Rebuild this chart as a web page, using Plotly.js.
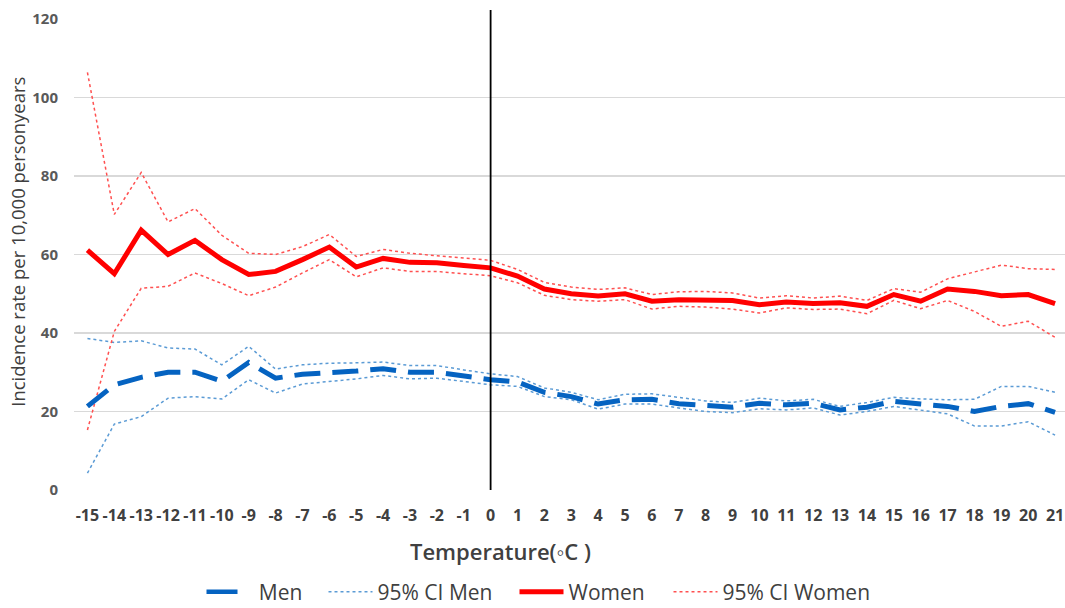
<!DOCTYPE html>
<html>
<head>
<meta charset="utf-8">
<script src="https://cdn.plot.ly/plotly-3.0.1.min.js"></script>
<style>html,body{margin:0;padding:0;background:#fff;}#chart{width:1065px;height:608px;}</style>
</head>
<body>
<div id="chart"></div>
<script>
var temps = [-15,-14,-13,-12,-11,-10,-9,-8,-7,-6,-5,-4,-3,-2,-1,0,1,2,3,4,5,6,7,8,9,10,11,12,13,14,15,16,17,18,19,20,21];
var men = [21.3,26.8,28.7,30.0,30.0,27.7,32.5,28.5,29.5,29.8,30.3,30.9,30.0,30.0,28.9,28.1,27.5,24.9,23.8,21.9,23.0,23.1,22.0,21.4,21.1,22.1,21.7,22.1,20.4,21.1,22.6,21.9,21.3,20.0,21.3,22.0,19.8];
var menUpper = [38.6,37.6,38.0,36.2,35.9,31.9,36.6,30.8,31.9,32.3,32.4,32.6,31.7,31.7,30.6,29.6,28.9,26.0,24.9,23.0,24.4,24.5,23.6,22.7,22.3,23.4,22.7,23.1,21.3,22.3,23.6,23.2,23.0,23.1,26.4,26.4,24.9];
var menLower = [4.3,16.8,18.7,23.4,23.8,23.2,28.1,24.7,27.0,27.7,28.3,29.2,28.3,28.5,27.7,26.8,26.4,23.8,23.0,20.6,21.9,21.9,20.9,20.0,19.7,20.7,20.4,20.9,19.1,20.0,21.3,20.4,19.4,16.3,16.3,17.4,14.0];
var women = [61.1,55.1,66.2,60.0,63.6,58.7,54.9,55.7,58.7,61.9,56.8,59.0,58.0,57.9,57.2,56.6,54.5,51.2,50.0,49.4,50.0,48.1,48.5,48.5,48.3,47.2,47.9,47.5,47.7,46.8,49.8,48.1,51.2,50.6,49.5,49.8,47.5];
var womenUpper = [106.4,70.2,80.9,68.3,71.7,64.9,60.3,60.0,62.0,65.1,59.5,61.3,60.3,59.7,59.1,58.5,56.2,52.9,51.7,51.1,51.5,49.8,50.5,50.6,50.2,48.9,49.5,48.9,49.4,48.3,51.3,50.4,53.8,55.5,57.3,56.4,56.2];
var womenLower = [15.3,40.4,51.4,51.9,55.3,52.6,49.5,51.7,55.3,58.7,54.3,56.6,55.7,55.7,55.1,54.6,52.8,49.6,48.5,48.1,48.5,46.1,46.8,46.6,46.1,45.1,46.4,46.0,46.1,44.9,48.3,46.2,48.3,45.5,41.7,43.0,38.9];
var yTicks = [0,20,40,60,80,100,120];

var ciMenStyle = {color:'#5B9BD5', width:1.5, dash:'dot'};
var ciWomenStyle = {color:'#FF5050', width:1.5, dash:'dot'};

var traces = [
  {x:temps, y:menUpper, mode:'lines', name:'95% CI Men', showlegend:false, line:ciMenStyle, hoverinfo:'skip'},
  {x:temps, y:menLower, mode:'lines', name:'95% CI Men', showlegend:false, line:ciMenStyle, hoverinfo:'skip'},
  {x:temps, y:womenUpper, mode:'lines', name:'95% CI Women', showlegend:false, line:ciWomenStyle, hoverinfo:'skip'},
  {x:temps, y:womenLower, mode:'lines', name:'95% CI Women', showlegend:false, line:ciWomenStyle, hoverinfo:'skip'},
  {x:temps, y:men, mode:'lines', name:'Men', showlegend:false, line:{color:'#0563C1', width:5, dash:'26px,12px'}},
  {x:temps, y:women, mode:'lines', name:'Women', showlegend:false, line:{color:'#FF0000', width:5}},
  {x:[null], y:[null], mode:'lines', name:'\u00A0\u00A0\u00A0Men', legend:'legend', line:{color:'#0563C1', width:4.5}},
  {x:[null], y:[null], mode:'lines', name:'95% CI Men', legend:'legend2', line:ciMenStyle},
  {x:[null], y:[null], mode:'lines', name:'Women', legend:'legend3', line:{color:'#FF0000', width:5}},
  {x:[null], y:[null], mode:'lines', name:'95% CI Women', legend:'legend4', line:ciWomenStyle}
];

function legendAt(xpx, iw) {
  return {orientation:'h', xref:'container', yref:'container', x:xpx/1065, xanchor:'left',
          y:0.0263, yanchor:'middle', font:{size:21, color:'#404040'}, itemwidth:iw,
          bgcolor:'rgba(0,0,0,0)'};
}

var layout = {
  width:1065, height:608,
  margin:{l:74, r:0, t:19, b:118},
  paper_bgcolor:'#ffffff', plot_bgcolor:'#ffffff',
  font:{family:'Open Sans, sans-serif', color:'#404040'},
  showlegend:true,
  legend:legendAt(201.5, 31),
  legend2:legendAt(323.5, 44),
  legend3:legendAt(514.5, 44),
  legend4:legendAt(668.5, 44),
  xaxis:{type:'linear', range:[-15.5,21.37], tickmode:'array', tickvals:temps, automargin:false,
         ticktext:temps.map(String), showgrid:false, zeroline:false, showline:false,
         ticks:'outside', ticklen:11, tickcolor:'rgba(0,0,0,0)',
         tickfont:{size:16, color:'#404040', weight:'bold'}},
  yaxis:{range:[0,120], tickmode:'array', tickvals:yTicks, showgrid:true, gridcolor:'#D9D9D9', gridwidth:1.5,
         automargin:false, zeroline:false, showline:false, ticks:'outside', ticklen:12, tickcolor:'rgba(0,0,0,0)',
         tickfont:{size:15, color:'#595959', weight:'bold'}},
  shapes:[{type:'line', xref:'x', yref:'paper', x0:0, x1:0, y0:0, y1:1.019, line:{color:'#000000', width:1.8}}],
  annotations:[
    {text:'Incidence rate per 10,000 personyears', xref:'paper', yref:'paper',
     x:-0.0565, y:0.527, xanchor:'center', yanchor:'middle', textangle:-90, showarrow:false,
     font:{size:18.5, color:'#404040', weight:500}},
    {text:'Temperature(\u25E6C )', xref:'paper', yref:'paper',
     x:0.43, y:-0.1295, xanchor:'center', yanchor:'middle', showarrow:false,
     font:{size:22, color:'#404040', weight:600}}
  ]
};

Plotly.newPlot('chart', traces, layout, {displayModeBar:false, staticPlot:true});
</script>
</body>
</html>
